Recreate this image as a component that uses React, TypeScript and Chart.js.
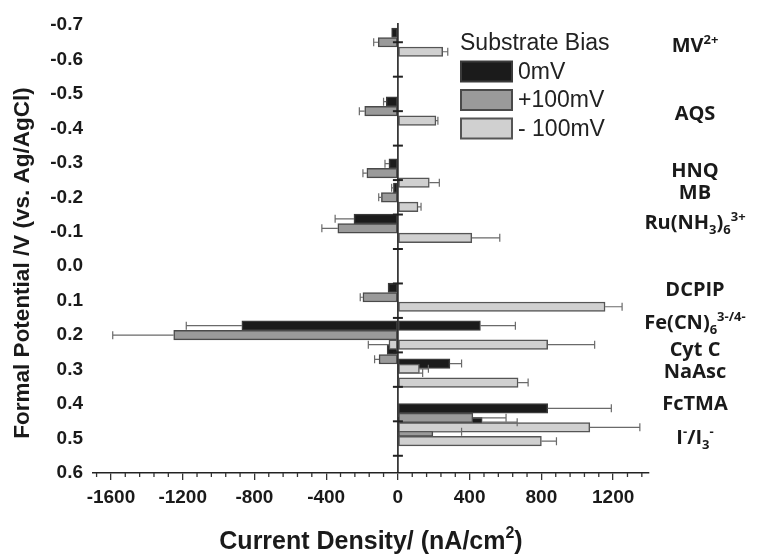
import React, { useEffect, useRef } from 'react';
import { Chart, registerables } from 'chart.js';

Chart.register(...registerables);

// ---------- data ----------
const compounds = ['MV2+', 'AQS', 'HNQ', 'MB', 'Ru(NH3)6 3+', 'DCPIP', 'Fe(CN)6 3-/4-', 'Cyt C', 'NaAsc', 'FcTMA', 'I-/I3-'];
// formal potential (V vs Ag/AgCl) at which each compound's bar group is centred
const potentials = [-0.65, -0.45, -0.27, -0.2, -0.11, 0.09, 0.2, 0.27, 0.31, 0.44, 0.48];
// where the compound names sit on the potential axis
const labelPotentials = [-0.642, -0.445, -0.279, -0.215, -0.128, 0.066, 0.162, 0.24, 0.304, 0.397, 0.496];

// 0 mV bias
const zeroMvNeg = [-35, -65, -50, -25, -245, -55, -870, -60, null, null, null];
const zeroMvNegErr = [0, 15, 22, 10, 105, 0, 310, 0, 0, 0, 0];
const zeroMvPos = [null, null, null, null, null, null, 460, null, 290, 835, 470];
const zeroMvPosErr = [0, 0, 0, 0, 0, 0, 195, 0, 65, 355, 195];
// +100 mV bias
const plus100Neg = [-110, -185, -173, -92, -335, -195, -1250, -105, null, null, null];
const plus100NegErr = [25, 30, 22, 15, 89, 15, 340, 25, 0, 0, 0];
const plus100Pos = [null, null, null, null, null, null, null, null, 3, 418, 195];
const plus100PosErr = [0, 0, 0, 0, 0, 0, 0, 0, 135, 185, 160];
// -100 mV bias
const minus100Neg = [null, null, null, null, null, null, -50, null, null, null, null];
const minus100NegErr = [0, 0, 0, 0, 0, 0, 115, 0, 0, 0, 0];
const minus100Pos = [250, 212, 175, 112, 412, 1155, 835, 120, 670, 1070, 800];
const minus100PosErr = [28, 11, 56, 17, 156, 95, 262, 50, 56, 279, 84];

const legendLabels = ['0mV', '+100mV', '- 100mV'];
const legendTitle = 'Substrate Bias';
const yTickValues = [-0.7, -0.6, -0.5, -0.4, -0.3, -0.2, -0.1, 0, 0.1, 0.2, 0.3, 0.4, 0.5, 0.6];
const centerAxisTicks = [-0.65, -0.55, -0.45, -0.35, -0.25, -0.15, -0.05, 0.05, 0.15, 0.25, 0.35, 0.45, 0.55];
const xTickValues = [-1600, -1200, -800, -400, 0, 400, 800, 1200];
const xMinorStep = 80;
const xTitle = ['Current Density/ (nA/cm', '2', ')'];
const yTitle = 'Formal Potential /V (vs. Ag/AgCl)';

// rich labels: [text, 'sup' | 'sub' | '']
const labelParts: [string, string][][] = [
  [['MV', ''], ['2+', 'sup']],
  [['AQS', '']],
  [['HNQ', '']],
  [['MB', '']],
  [['Ru(NH', ''], ['3', 'sub'], [')', ''], ['6', 'sub'], ['3+', 'sup']],
  [['DCPIP', '']],
  [['Fe(CN)', ''], ['6', 'sub'], ['3-/4-', 'sup']],
  [['Cyt C', '']],
  [['NaAsc', '']],
  [['FcTMA', '']],
  [['I', ''], ['-', 'sup'], ['/I', ''], ['3', 'sub'], ['-', 'sup']],
];

// ---------- styles ----------
const FILL = ['#1b1b1b', '#9a9a9a', '#d0d0d0'];
const BORDER = ['#3a3a3a', '#4a4a4a', '#555555'];
const TITLE_FAMILY = '"Liberation Sans", Arial, sans-serif';
const LABEL_FAMILY = '"Open Sans", "Noto Sans", sans-serif';

function makeDataset(label: string, vals: (number | null)[], errs: number[], k: number, stack: string) {
  const data: { x: number; y: number }[] = [];
  const errors: number[] = [];
  potentials.forEach((p, i) => {
    const v = vals[i];
    if (v !== null && v !== undefined) {
      data.push({ x: v, y: p });
      errors.push(errs[i]);
    }
  });
  return {
    label,
    data,
    errors,
    stack,
    backgroundColor: FILL[k],
    borderColor: BORDER[k],
    borderWidth: 1.5,
    borderSkipped: false,
    barThickness: 9.5,
  } as any;
}

function drawRich(ctx: CanvasRenderingContext2D, parts: [string, string][], cx: number, cy: number) {
  const base = `bold 20px ${LABEL_FAMILY}`;
  const small = `bold 13px ${LABEL_FAMILY}`;
  let total = 0;
  const widths = parts.map(([t, s]) => {
    ctx.font = s ? small : base;
    const w = ctx.measureText(t).width;
    total += w;
    return w;
  });
  let x = cx - total / 2;
  ctx.textBaseline = 'alphabetic';
  ctx.textAlign = 'left';
  const baseline = cy + 7;
  parts.forEach(([t, s], i) => {
    ctx.font = s ? small : base;
    const dy = s === 'sup' ? -8 : s === 'sub' ? 4.5 : 0;
    ctx.fillText(t, x, baseline + dy);
    x += widths[i];
  });
}

const customPlugin = {
  id: 'customDraw',
  beforeDatasetsDraw(chart: any) {
    const ctx = chart.ctx as CanvasRenderingContext2D;
    const n = chart.data.datasets.length;
    for (let i = 0; i < n; i++) {
      const meta = chart.getDatasetMeta(i);
      if (!meta.hidden) meta.controller.draw();
    }
    const xs = chart.scales.x;
    ctx.save();
    ctx.strokeStyle = '#6a6a6a';
    ctx.lineWidth = 1.2;
    for (let i = 0; i < n; i++) {
      const ds = chart.data.datasets[i];
      const meta = chart.getDatasetMeta(i);
      meta.data.forEach((el: any, j: number) => {
        const pt = ds.data[j];
        const err = ds.errors[j];
        if (!err) return;
        const dir = pt.x < 0 ? -1 : 1;
        const x0 = el.x;
        const x1 = xs.getPixelForValue(pt.x + dir * err);
        const y = el.y;
        ctx.beginPath();
        ctx.moveTo(x0, y);
        ctx.lineTo(x1, y);
        ctx.moveTo(x1, y - 4);
        ctx.lineTo(x1, y + 4);
        ctx.stroke();
      });
    }
    ctx.restore();
    return false;
  },
  afterDraw(chart: any) {
    const ctx = chart.ctx as CanvasRenderingContext2D;
    const xs = chart.scales.x;
    const ys = chart.scales.y;
    const area = chart.chartArea;
    ctx.save();
    // centre axis at x = 0
    const x0 = xs.getPixelForValue(0);
    ctx.strokeStyle = '#222';
    ctx.lineWidth = 1.6;
    ctx.beginPath();
    ctx.moveTo(x0, area.top - 2);
    ctx.lineTo(x0, area.bottom);
    ctx.stroke();
    ctx.lineWidth = 2;
    centerAxisTicks.forEach((v) => {
      const y = ys.getPixelForValue(v);
      ctx.beginPath();
      ctx.moveTo(x0 - 5, y);
      ctx.lineTo(x0 + 5, y);
      ctx.stroke();
    });
    // minor ticks on x axis
    ctx.lineWidth = 1.3;
    ctx.strokeStyle = '#333';
    for (let v = xs.min + 20; v <= xs.max; v += xMinorStep) {
      if (v % 400 === 0) continue;
      const x = xs.getPixelForValue(v);
      ctx.beginPath();
      ctx.moveTo(x, area.bottom);
      ctx.lineTo(x, area.bottom + 4);
      ctx.stroke();
    }
    // compound labels
    ctx.fillStyle = '#1a1a1a';
    labelParts.forEach((parts, i) => {
      drawRich(ctx, parts, 695, ys.getPixelForValue(labelPotentials[i]));
    });
    // legend
    ctx.font = `23px ${TITLE_FAMILY}`;
    ctx.textAlign = 'left';
    ctx.textBaseline = 'middle';
    ctx.fillStyle = '#222';
    ctx.fillText(legendTitle, 460, 44);
    legendLabels.forEach((t, k) => {
      const cy = 71.5 + k * 28.5;
      ctx.fillStyle = FILL[k];
      ctx.fillRect(461, cy - 10, 51, 20);
      ctx.strokeStyle = BORDER[k];
      ctx.lineWidth = 2;
      ctx.strokeRect(461, cy - 10, 51, 20);
      ctx.fillStyle = '#222';
      ctx.fillText(t, 518, cy + 1);
    });
    // x title
    ctx.fillStyle = '#1a1a1a';
    const big = `bold 25px ${TITLE_FAMILY}`;
    const sm = `bold 16px ${TITLE_FAMILY}`;
    ctx.font = big;
    const w0 = ctx.measureText(xTitle[0]).width;
    const w2 = ctx.measureText(xTitle[2]).width;
    ctx.font = sm;
    const w1 = ctx.measureText(xTitle[1]).width;
    const tw = w0 + w1 + w2;
    let tx = (area.left + area.right) / 2 - tw / 2;
    const tb = 549;
    ctx.textBaseline = 'alphabetic';
    ctx.font = big;
    ctx.fillText(xTitle[0], tx, tb);
    tx += w0;
    ctx.font = sm;
    ctx.fillText(xTitle[1], tx, tb - 11);
    tx += w1;
    ctx.font = big;
    ctx.fillText(xTitle[2], tx, tb);
    // y title
    ctx.save();
    ctx.translate(23, 263);
    ctx.rotate(-Math.PI / 2);
    ctx.textAlign = 'center';
    ctx.textBaseline = 'middle';
    ctx.font = `bold 22.5px ${TITLE_FAMILY}`;
    ctx.fillText(yTitle, 0, 0);
    ctx.restore();
    ctx.restore();
  },
};

export default function App() {
  const ref = useRef<HTMLCanvasElement | null>(null);
  useEffect(() => {
    if (!ref.current) return;
    const datasets = [
      makeDataset('0mV', zeroMvNeg, zeroMvNegErr, 0, 'b'),
      makeDataset('0mV', zeroMvPos, zeroMvPosErr, 0, 'b'),
      makeDataset('+100mV', plus100Neg, plus100NegErr, 1, 'g'),
      makeDataset('+100mV', plus100Pos, plus100PosErr, 1, 'g'),
      makeDataset('- 100mV', minus100Neg, minus100NegErr, 2, 'l'),
      makeDataset('- 100mV', minus100Pos, minus100PosErr, 2, 'l'),
    ];
    const chart = new Chart(ref.current, {
      type: 'bar',
      data: { datasets },
      plugins: [customPlugin],
      options: {
        animation: false,
        responsive: false,
        indexAxis: 'y',
        layout: { padding: { top: 25, right: 115, left: 0, bottom: 0 } },
        plugins: { legend: { display: false }, tooltip: { enabled: false } },
        scales: {
          y: {
            type: 'linear',
            min: -0.7,
            max: 0.6,
            reverse: true,
            offset: false,
            grid: { display: false, drawTicks: false },
            border: { display: false },
            afterBuildTicks: (scale: any) => {
              scale.ticks = yTickValues.map((v) => ({ value: v }));
            },
            afterFit: (scale: any) => {
              scale.width = 93;
            },
            ticks: {
              padding: 10,
              color: '#1a1a1a',
              font: { family: '"Liberation Sans", Arial, sans-serif', weight: 'bold', size: 19 },
              callback: (v: any) => Number(v).toFixed(1),
            },
          },
          x: {
            type: 'linear',
            min: -1700,
            max: 1400,
            grid: { display: true, drawOnChartArea: false, drawTicks: true, tickLength: 7, color: '#333', lineWidth: 1.3 },
            border: { display: true, color: '#222', width: 1.6 },
            afterBuildTicks: (scale: any) => {
              scale.ticks = xTickValues.map((v) => ({ value: v }));
            },
            afterFit: (scale: any) => {
              scale.height = 85;
            },
            ticks: {
              padding: 6,
              color: '#1a1a1a',
              maxRotation: 0,
              autoSkip: false,
              font: { family: '"Liberation Sans", Arial, sans-serif', weight: 'bold', size: 19 },
              callback: (v: any) => String(v),
            },
          },
        },
      } as any,
    });
    return () => chart.destroy();
  }, []);
  return (
    <div style={{ position: 'absolute', left: 0, top: 0, width: 764, height: 558, background: '#fff' }}>
      <canvas ref={ref} width={764} height={558} />
    </div>
  );
}
